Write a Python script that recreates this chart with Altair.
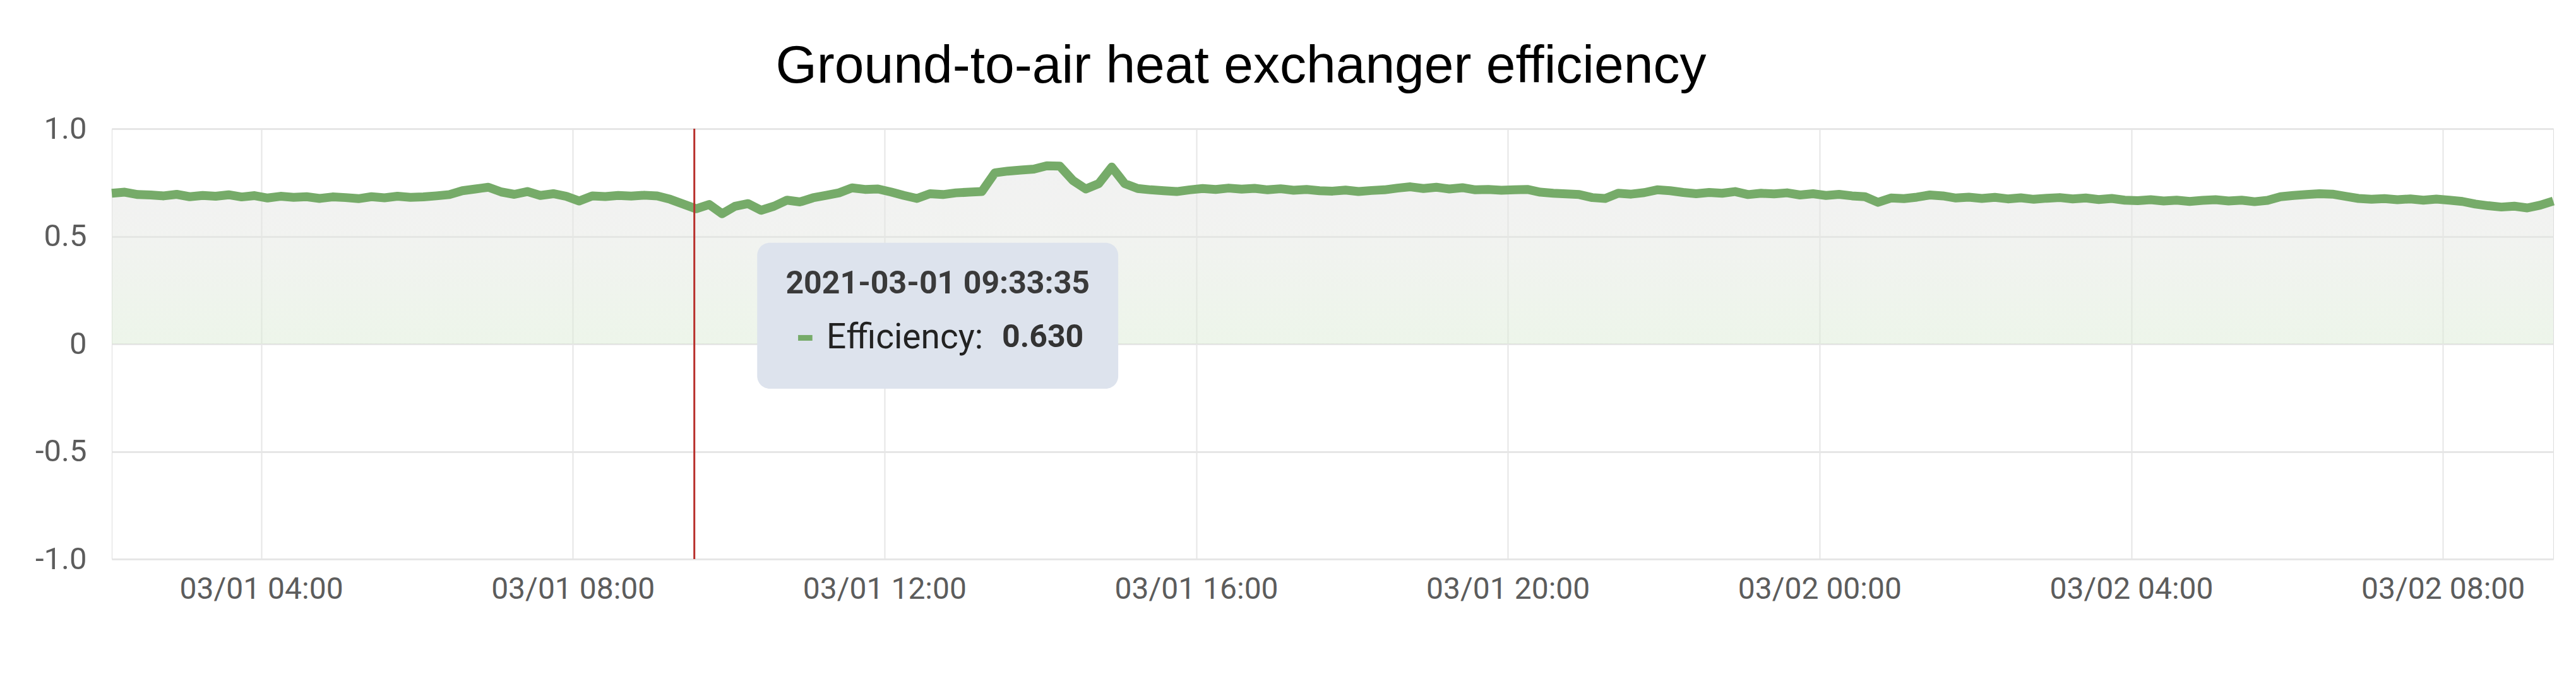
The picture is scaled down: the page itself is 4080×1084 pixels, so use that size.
import altair as alt
import pandas as pd

# ---- data (10-minute samples, 03/01 02:05 -> 03/02 09:25) ----
series_start = "2021-03-01 02:05"
efficiency = [
    # 02h
    0.700, 0.705, 0.694, 0.692, 0.688, 0.695,
    # 03h
    0.684, 0.690, 0.686, 0.693, 0.683, 0.689,
    # 04h
    0.678, 0.686, 0.681, 0.684, 0.676, 0.683,
    # 05h
    0.680, 0.675, 0.684, 0.679, 0.686, 0.681,
    # 06h
    0.683, 0.688, 0.694, 0.712, 0.720, 0.728,
    # 07h
    0.706, 0.695, 0.708, 0.690, 0.698, 0.686,
    # 08h
    0.664, 0.688, 0.685, 0.690, 0.687, 0.691,
    # 09h
    0.688, 0.672, 0.650, 0.628, 0.648, 0.605,
    # 10h
    0.640, 0.652, 0.621, 0.640, 0.668, 0.660,
    # 11h
    0.679, 0.690, 0.702, 0.725, 0.718, 0.720,
    # 12h
    0.706, 0.690, 0.676, 0.698, 0.694, 0.702,
    # 13h
    0.705, 0.708, 0.795, 0.803, 0.808, 0.812,
    # 14h
    0.828, 0.826, 0.760, 0.720, 0.745, 0.822,
    # 15h
    0.745, 0.722, 0.716, 0.712, 0.708, 0.716,
    # 16h
    0.722, 0.718, 0.724, 0.719, 0.723, 0.716,
    # 17h
    0.721, 0.714, 0.718, 0.712, 0.710, 0.715,
    # 18h
    0.708, 0.713, 0.716, 0.724, 0.730, 0.722,
    # 19h
    0.728, 0.720, 0.726, 0.716, 0.718, 0.714,
    # 20h
    0.716, 0.718, 0.705, 0.700, 0.697, 0.694,
    # 21h
    0.680, 0.676, 0.700, 0.696, 0.703, 0.716,
    # 22h
    0.712, 0.704, 0.698, 0.704, 0.700, 0.708,
    # 23h
    0.694, 0.700, 0.697, 0.702, 0.692, 0.698,
    # 03/02 00h
    0.690, 0.695, 0.688, 0.684, 0.658, 0.678,
    # 01h
    0.675, 0.682, 0.692, 0.688, 0.678, 0.682,
    # 02h
    0.676, 0.681, 0.674, 0.679, 0.672, 0.677,
    # 03h
    0.680, 0.674, 0.678, 0.671, 0.676, 0.668,
    # 04h
    0.666, 0.670, 0.664, 0.668, 0.662, 0.667,
    # 05h
    0.670, 0.664, 0.668, 0.661, 0.667, 0.684,
    # 06h
    0.690, 0.694, 0.698, 0.696, 0.686, 0.676,
    # 07h
    0.672, 0.675, 0.670, 0.674, 0.668, 0.673,
    # 08h
    0.668, 0.662, 0.650, 0.642, 0.636, 0.640,
    # 09h
    0.632, 0.645, 0.664,
]

title_text = "Ground-to-air heat exchanger efficiency"
series_name = "Efficiency"
cursor_time = "2021-03-01 09:33:35"
cursor_label = "2021-03-01 09:33:35"
cursor_value = 0.630
y_ticks = [-1.0, -0.5, 0.0, 0.5, 1.0]
x_tick_times = ["2021-03-01 04:00", "2021-03-01 08:00", "2021-03-01 12:00", "2021-03-01 16:00",
                "2021-03-01 20:00", "2021-03-02 00:00", "2021-03-02 04:00", "2021-03-02 08:00"]
x_range = ["2021-03-01 02:05", "2021-03-02 09:25"]


def ms(s):
    return int(pd.Timestamp(s).value // 10**6)


times = pd.date_range(series_start, periods=len(efficiency), freq="10min")
df = pd.DataFrame({"time": [int(t.value // 10**6) for t in times], "value": efficiency})

LINE = "#76ab69"
AXIS_FONT = "Roboto"

x_axis = alt.Axis(
    title=None,
    labelExpr="utcFormat(datum.value, '%m/%d %H:%M')",
    values=[ms(s) for s in x_tick_times],
    grid=True,
    gridColor="#e6e6e6",
    gridWidth=2,
    domain=False,
    ticks=False,
    labelFont=AXIS_FONT,
    labelFontSize=48,
    labelColor="#5c5c5c",
    labelPadding=24,
    labelFlush=False,
    labelLimit=1000,
    labelOverlap=False,
)
y_axis = alt.Axis(
    title=None,
    values=y_ticks,
    labelExpr="datum.value == 0 ? '0' : (datum.value < 0 ? '-' + format(-datum.value, '.1f') : format(datum.value, '.1f'))",
    grid=True,
    gridColor="#e6e6e6",
    gridWidth=3,
    domain=False,
    ticks=False,
    labelFont=AXIS_FONT,
    labelFontSize=49,
    labelColor="#5c5c5c",
    labelPadding=40,
)
x_scale = alt.Scale(type="utc", domain=[ms(x_range[0]), ms(x_range[1])])
y_scale = alt.Scale(domain=[-1, 1], nice=False)


def xt(field):
    return alt.X(field, type="temporal", scale=x_scale, axis=x_axis)


def yq(field):
    return alt.Y(field, type="quantitative", scale=y_scale, axis=y_axis)


base = alt.Chart(df)

area = base.mark_area(
    opacity=0.5,
    color=alt.Gradient(
        gradient="linear",
        stops=[
            alt.GradientStop(color="#e4e4e4", offset=0),
            alt.GradientStop(color="#e4e6e2", offset=0.35),
            alt.GradientStop(color="#dbebd5", offset=1),
        ],
        x1=1, x2=1, y1=0, y2=1,
    ),
).encode(x=xt("time"), y=yq("value"), y2=alt.datum(0))

line = base.mark_line(color=LINE, strokeWidth=14, strokeJoin="round").encode(x=xt("time"), y=yq("value"))

cursor_df = pd.DataFrame({"time": [ms(cursor_time)], "y1": [-1.0], "y2": [1.0]})
cursor = alt.Chart(cursor_df).mark_rule(color="#b8302c", strokeWidth=3).encode(
    x=xt("time"), y=yq("y1"), y2="y2:Q"
)

box_df = pd.DataFrame({
    "time": [ms("2021-03-01 10:22")], "t2": [ms("2021-03-01 15:00")],
    "v1": [0.47], "v2": [-0.208],
})
box = alt.Chart(box_df).mark_rect(color="#dde3ed", cornerRadius=20).encode(
    x=xt("time"), x2="t2:T", y=yq("v1"), y2="v2:Q"
)

head_df = pd.DataFrame({"time": [ms("2021-03-01 12:41")], "v": [0.28], "label": [cursor_label]})
head = alt.Chart(head_df).mark_text(
    font=AXIS_FONT, fontSize=50, fontWeight="bold", color="#3a3a3a", align="center", baseline="middle"
).encode(x=xt("time"), y=yq("v"), text="label:N")

dash_df = pd.DataFrame({"time": [ms("2021-03-01 10:53:30")], "t2": [ms("2021-03-01 11:04:30")], "v": [0.028]})
dash = alt.Chart(dash_df).mark_rule(color=LINE, strokeWidth=9).encode(
    x=xt("time"), x2="t2:T", y=yq("v")
)

name_df = pd.DataFrame({"time": [ms("2021-03-01 11:15:20")], "v": [0.028], "label": [series_name + ":"]})
name = alt.Chart(name_df).mark_text(
    font=AXIS_FONT, fontSize=55, color="#222222", align="left", baseline="middle"
).encode(x=xt("time"), y=yq("v"), text="label:N")

val_df = pd.DataFrame({"time": [ms("2021-03-01 13:30:30")], "v": [0.028], "label": [f"{cursor_value:.3f}"]})
val = alt.Chart(val_df).mark_text(
    font=AXIS_FONT, fontSize=50, fontWeight="bold", color="#333333", align="left", baseline="middle"
).encode(x=xt("time"), y=yq("v"), text="label:N")

chart = (
    alt.layer(area, line, cursor, box, head, dash, name, val)
    .properties(
        width=3867,
        height=682,
        padding={"left": 169, "top": 196, "right": 20, "bottom": 120},
        autosize=alt.AutoSizeParams(type="none"),
        title=alt.Title(
            title_text,
            font="Liberation Sans",
            fontSize=84,
            fontWeight="normal",
            color="#000000",
            anchor="middle",
            frame="group",
            dx=-145,
            dy=109,
            baseline="bottom",
            offset=56,
        ),
    )
    .configure_view(stroke=None)
    .configure(background="white")
)

chart.save("out.html", embed_options={"renderer": "svg", "actions": False})
